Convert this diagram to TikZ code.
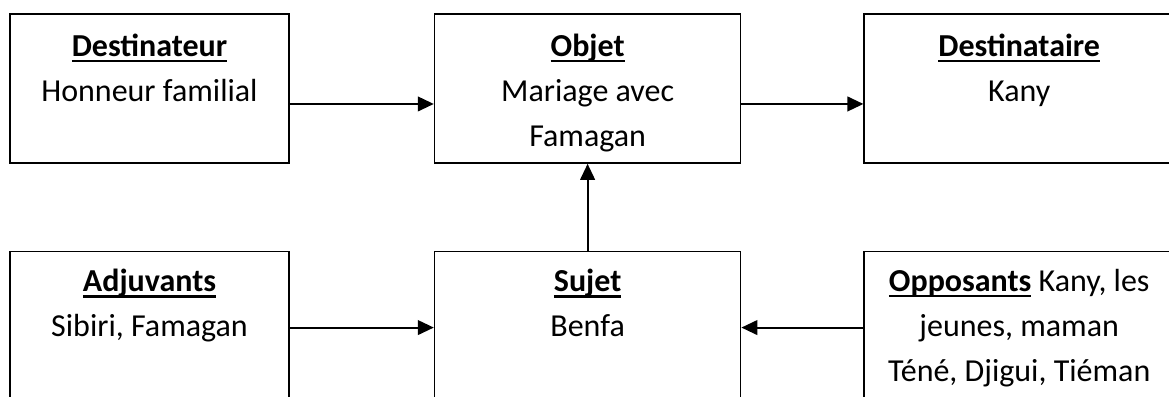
\documentclass[tikz,border=0pt]{standalone}
\usepackage{fontspec}
\setmainfont{Carlito}
\usetikzlibrary{positioning, arrows.meta}

\newcommand{\undl}[1]{\setbox0\hbox{\textbf{#1}}\rlap{\rule[-4.6pt]{\wd0}{1.8pt}}\box0\relax}

\begin{document}
\begin{tikzpicture}[x=0.75pt,y=-0.75pt,->,>={Triangle[length=12pt,width=11pt]},
                    line width=1.5pt]
\tikzstyle{box}=[draw=black,line width=1.2pt,minimum height=111.75pt,inner sep=0pt]
\tikzstyle{txt}=[align=center,inner sep=0pt,font=\fontsize{24pt}{33.75pt}\selectfont]

\useasboundingbox (0,0) rectangle (1169,396);
\clip (0,0) rectangle (1169,396);

        % top row
        \node[box,minimum width=209.25pt]              (dest)   at (149.5,88.5)          {};
        \node[box,minimum width=229.5pt]               (obj)    [right=108pt of dest]    {};
        \node[box,minimum width=232.5pt]               (dtaire) [right=91.5pt of obj]    {};

        % bottom row
        \node[box,minimum width=209.25pt]              (adj)    [below=65.25pt of dest]  {};
        \node[box,minimum width=229.5pt]               (suj)    [below=65.25pt of obj]   {};
        \node[box,minimum width=232.5pt]               (opp)    [below=65.25pt of dtaire] {};

        % texts
        \node[txt] (destT)   [below=14.6pt of dest.north]   {\undl{Destinateur}\\Honneur familial};
        \node[txt] (objT)    [below=14.6pt of obj.north]    {\undl{Objet}\\Mariage avec\\Famagan};
        \node[txt] (dtaireT) [below=14.6pt of dtaire.north] {\undl{Destinataire}\\Kany};
        \node[txt] (adjT)    [below=13pt of adj.north]      {\undl{Adjuvants}\\Sibiri, Famagan};
        \node[txt] (sujT)    [below=13pt of suj.north]      {\undl{Sujet}\\Benfa};
        \node[txt] (oppT)    [below=13pt of opp.north]      {\undl{Opposants} Kany, les\\jeunes, maman\\Téné, Djigui, Tiéman};

        \path[->]
        ([yshift=-11.6pt]dest.east) edge ([yshift=-11.6pt]obj.west)
        ([yshift=-11.6pt]obj.east)  edge ([yshift=-11.6pt]dtaire.west)
        (suj.north) edge (obj.south)
        ([yshift=-1.1pt]adj.east) edge ([yshift=-1.1pt]suj.west)
        ([yshift=-1.1pt]opp.west) edge ([yshift=-1.1pt]suj.east)
        ; %end path

\end{tikzpicture}
\end{document}
